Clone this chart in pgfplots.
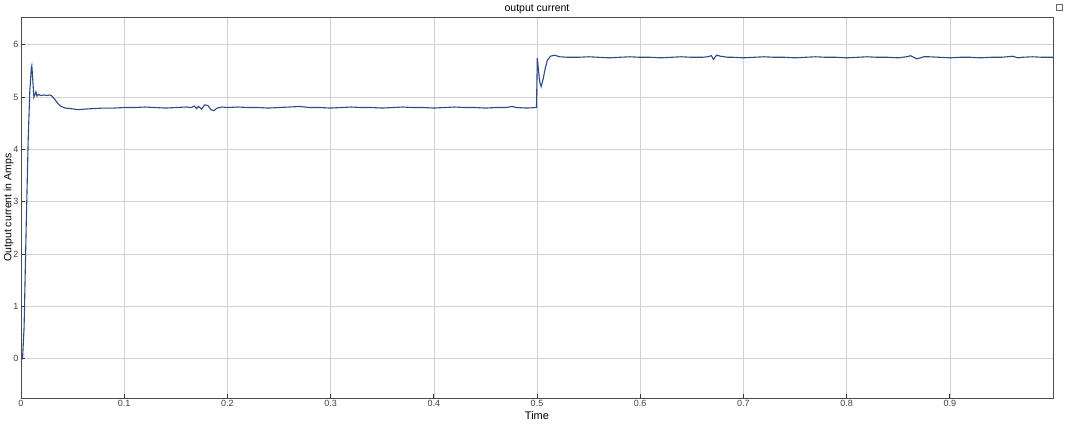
\documentclass[border=0pt]{standalone}
\usepackage{fontspec}
\setmainfont{Liberation Sans}
\usepackage{pgfplots}
\pgfplotsset{compat=1.18}
\definecolor{trace}{HTML}{2B4A86}
\definecolor{gridc}{HTML}{D2D2D2}
\begin{document}
\begin{tikzpicture}[x=1pt,y=1pt]
\begin{axis}[
  name=ax,
  scale only axis,
  width=1032pt, height=381pt,
  xmin=0, xmax=1, ymin=-0.75, ymax=6.53,
  xtick={0,0.1,...,0.9},
  ytick={0,1,...,6},
  xticklabels={0,0.1,0.2,0.3,0.4,0.5,0.6,0.7,0.8,0.9},
  yticklabels={0,1,2,3,4,5,6},
  grid=major,
  major grid style={gridc, line width=0.6pt},
  axis line style={black!70, line width=0.8pt},
  tick style={black!80, line width=0.8pt},
  tick align=inside,
  major tick length=4pt,
  xtick pos=bottom, ytick pos=left,
  ticklabel style={font=\fontsize{9}{10}\selectfont, text=black!75},
  xticklabel style={yshift=1pt},
  yticklabel style={xshift=1pt},
  /pgf/number format/assume math mode=true,
  xlabel={Time},
  ylabel={Output current in Amps},
  xlabel style={font=\fontsize{11}{12}\selectfont, yshift=2pt},
  ylabel style={font=\fontsize{10.5}{12}\selectfont, yshift=-7pt},
  title={output current},
  title style={font=\fontsize{10.5}{11}\selectfont, yshift=-6pt},
]
\addplot[trace, line width=1.1pt] coordinates {
(0,0) (0.0015,0) (0.003,0.6) (0.005,2.5) (0.007,4.2) (0.0085,5.1) (0.0100,5.55)
(0.0105,5.6) (0.0115,5.3) (0.0125,5.0) (0.0135,5.05) (0.0145,5.1) (0.0155,5.02)
(0.017,5.05) (0.019,5.03) (0.022,5.04) (0.025,5.03) (0.028,5.04) (0.030,5.02)
(0.033,4.95) (0.036,4.87) (0.039,4.82) (0.043,4.79) (0.048,4.78) (0.055,4.76)
(0.062,4.77) (0.07,4.78) (0.08,4.79) (0.09,4.79) (0.1,4.80) (0.11,4.80)
(0.12,4.81) (0.13,4.80) (0.14,4.79) (0.15,4.80) (0.16,4.81) (0.165,4.80)
(0.168,4.83) (0.170,4.78) (0.172,4.82) (0.175,4.77) (0.178,4.85) (0.181,4.84)
(0.184,4.76) (0.187,4.74) (0.19,4.79) (0.195,4.81) (0.2,4.80) (0.21,4.81)
(0.22,4.80) (0.23,4.80) (0.24,4.79) (0.25,4.80) (0.26,4.81) (0.27,4.82)
(0.275,4.81) (0.28,4.80) (0.29,4.80) (0.30,4.79) (0.31,4.80) (0.32,4.81)
(0.33,4.80) (0.34,4.80) (0.35,4.79) (0.36,4.80) (0.37,4.81) (0.38,4.80)
(0.39,4.80) (0.40,4.79) (0.41,4.80) (0.42,4.81) (0.43,4.80) (0.44,4.80)
(0.45,4.79) (0.46,4.80) (0.47,4.80) (0.476,4.82) (0.48,4.80) (0.49,4.79)
(0.4995,4.80) (0.5003,5.75) (0.501,5.6) (0.5025,5.3) (0.504,5.2) (0.506,5.35)
(0.508,5.55) (0.510,5.7) (0.513,5.78) (0.517,5.80) (0.522,5.77) (0.53,5.76)
(0.54,5.76) (0.55,5.77) (0.56,5.76) (0.57,5.75) (0.58,5.76) (0.59,5.77)
(0.60,5.76) (0.61,5.76) (0.62,5.75) (0.63,5.76) (0.64,5.77) (0.65,5.76)
(0.66,5.76) (0.665,5.77) (0.669,5.79) (0.671,5.72) (0.674,5.80) (0.678,5.78)
(0.685,5.76) (0.69,5.76) (0.70,5.75) (0.71,5.76) (0.72,5.77) (0.73,5.76)
(0.74,5.76) (0.75,5.75) (0.76,5.76) (0.77,5.77) (0.78,5.76) (0.79,5.76)
(0.80,5.75) (0.81,5.76) (0.82,5.77) (0.83,5.76) (0.84,5.76) (0.85,5.75)
(0.858,5.77) (0.862,5.79) (0.868,5.73) (0.875,5.77) (0.88,5.77) (0.89,5.76)
(0.90,5.75) (0.91,5.76) (0.92,5.76) (0.93,5.75) (0.94,5.76) (0.95,5.76)
(0.961,5.78) (0.966,5.75) (0.97,5.76) (0.98,5.77) (0.99,5.76) (1.0,5.76)
};
\end{axis}
\draw[black!60, line width=0.5pt] ([xshift=3pt,yshift=7pt]ax.north east) rectangle ++(6pt,6pt);
\path ([xshift=-21pt,yshift=-27pt]ax.south west) rectangle ([xshift=12pt,yshift=17pt]ax.north east);
\end{tikzpicture}
\end{document}
